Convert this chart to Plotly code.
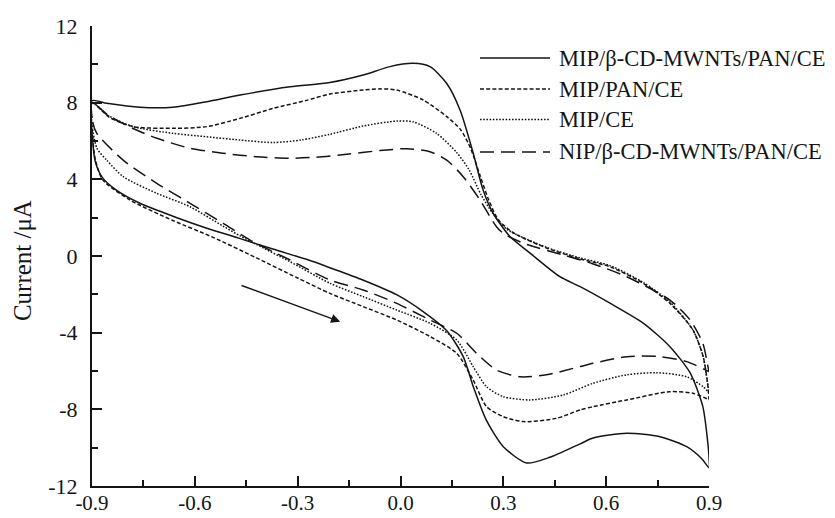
import plotly.graph_objects as go

# Cyclic voltammograms, forward scan (lower branch) then reverse scan (upper branch)
names = ["MIP/β-CD-MWNTs/PAN/CE", "MIP/PAN/CE", "MIP/CE", "NIP/β-CD-MWNTs/PAN/CE"]

mwnt_x = [-0.9, -0.898, -0.89, -0.87, -0.83, -0.76, -0.66, -0.565, -0.47, -0.37, -0.27, -0.2,
          -0.11, -0.01, 0.066, 0.135, 0.183, 0.212, 0.25, 0.3, 0.368, 0.436, 0.524, 0.562,
          0.66, 0.757, 0.835, 0.88, 0.9,
          0.9, 0.895, 0.882, 0.845, 0.786, 0.708, 0.611, 0.524, 0.465, 0.378, 0.32, 0.27,
          0.241, 0.212, 0.174, 0.135, 0.086, 0.037, -0.031, -0.109, -0.206, -0.322, -0.468,
          -0.565, -0.664, -0.76, -0.857, -0.9]
mwnt_y = [8.1, 6.0, 4.9, 4.1, 3.45, 2.75, 2.05, 1.45, 0.92, 0.35, -0.2, -0.65,
          -1.25, -2.03, -2.9, -3.9, -5.25, -6.8, -8.55, -9.95, -10.8, -10.5, -9.8, -9.5,
          -9.25, -9.43, -9.95, -10.6, -11.05,
          -10.5, -9.5, -7.86, -6.1, -4.73, -3.5, -2.46, -1.6, -1.08, 0.15, 1.0, 2.24,
          3.44, 5.37, 7.6, 9.0, 9.88, 10.05, 9.88, 9.44, 9.05, 8.83, 8.4,
          8.05, 7.76, 7.76, 7.97, 8.1]

pan_x = [-0.9, -0.898, -0.89, -0.868, -0.789, -0.664, -0.55, -0.42, -0.3, -0.206, -0.109,
         -0.011, 0.086, 0.164, 0.212, 0.251, 0.3, 0.358, 0.455, 0.524, 0.562, 0.66, 0.786,
         0.853, 0.9,
         0.9, 0.897, 0.883, 0.853, 0.786, 0.708, 0.611, 0.524, 0.426, 0.33, 0.285, 0.258,
         0.232, 0.205, 0.175, 0.135, 0.066, -0.011, -0.06, -0.109, -0.206, -0.274, -0.372,
         -0.468, -0.565, -0.664, -0.78, -0.85, -0.9]
pan_y = [8.0, 6.2, 5.0, 3.96, 2.92, 1.85, 1.0, -0.1, -1.15, -1.95, -2.64,
         -3.34, -4.2, -5.08, -6.47, -7.86, -8.38, -8.64, -8.47, -8.03, -7.86, -7.51, -7.08,
         -7.16, -7.5,
         -7.5, -6.8, -5.25, -3.86, -2.47, -1.42, -0.56, -0.15, 0.42, 1.2, 1.9, 2.9,
         4.2, 5.6, 6.6, 7.27, 8.14, 8.66, 8.72, 8.66, 8.45, 8.12, 7.7,
         7.18, 6.75, 6.66, 6.75, 7.25, 8.0]

ce_x = [-0.9, -0.898, -0.885, -0.857, -0.809, -0.711, -0.614, -0.517, -0.468, -0.42, -0.322,
        -0.206, -0.109, -0.011, 0.086, 0.164, 0.212, 0.251, 0.3, 0.378, 0.475, 0.562, 0.66,
        0.747, 0.835, 0.883, 0.9,
        0.9, 0.897, 0.883, 0.853, 0.786, 0.708, 0.611, 0.524, 0.426, 0.31, 0.27, 0.235,
        0.2, 0.164, 0.105, 0.037, -0.011, -0.109, -0.206, -0.29, -0.372, -0.468, -0.565,
        -0.664, -0.78, -0.85, -0.9]
ce_y = [8.0, 6.6, 5.6, 5.0, 4.14, 3.27, 2.57, 1.55, 1.05, 0.6, -0.3,
        -1.42, -2.12, -2.82, -3.51, -4.38, -5.77, -6.82, -7.34, -7.51, -7.25, -6.64, -6.2,
        -6.09, -6.3, -6.82, -7.16,
        -7.16, -6.8, -5.25, -3.86, -2.4, -1.38, -0.5, -0.1, 0.45, 1.4, 2.2, 3.2,
        4.5, 5.4, 6.4, 7.0, 7.04, 6.78, 6.35, 6.05, 5.92, 6.05, 6.22,
        6.4, 6.75, 7.3, 8.0]

nip_x = [-0.9, -0.898, -0.886, -0.809, -0.711, -0.614, -0.517, -0.439, -0.322, -0.206,
         -0.109, -0.011, 0.086, 0.164, 0.222, 0.28, 0.349, 0.426, 0.524, 0.562, 0.66, 0.757,
         0.835, 0.9,
         0.9, 0.897, 0.882, 0.845, 0.786, 0.66, 0.56, 0.475, 0.358, 0.3, 0.28, 0.261, 0.232,
         0.183, 0.135, 0.086, 0.02, -0.06, -0.15, -0.25, -0.322, -0.42, -0.518, -0.614,
         -0.711, -0.78, -0.85, -0.9]
nip_y = [8.0, 7.0, 6.4, 5.0, 3.79, 2.75, 1.7, 0.83, -0.21, -1.25,
         -1.77, -2.47, -3.34, -4.03, -5.08, -5.95, -6.3, -6.2, -5.77, -5.6, -5.25, -5.25,
         -5.51, -6.03,
         -6.03, -5.77, -4.55, -3.34, -2.3, -1.08, -0.4, 0.05, 0.67, 1.18, 1.53, 2.05, 2.92,
         4.14, 5.0, 5.44, 5.6, 5.5, 5.32, 5.15, 5.1, 5.18, 5.36, 5.62,
         6.14, 6.65, 7.3, 8.0]

x_ticks = [-0.9, -0.6, -0.3, 0.0, 0.3, 0.6, 0.9]
x_tick_labels = ["-0.9", "-0.6", "-0.3", "0.0", "0.3", "0.6", "0.9"]
x_minor = [-0.75, -0.45, -0.15, 0.15, 0.45, 0.75]
y_ticks = [-12, -8, -4, 0, 4, 8, 12]
y_tick_labels = ["-12", "-8", "-4", "0", "4", "8", "12"]
y_minor = [-10, -6, -2, 2, 6, 10]

# scan direction arrow (tail -> head)
arrow_tail = (-0.468, -1.51)
arrow_head = (-0.176, -3.43)

INK = "#151515"
FONT = "Liberation Serif, Times New Roman, serif"
dashes = ["solid", "4px,2.2px", "1.6px,1.6px", "14px,7px"]
curves = [(mwnt_x, mwnt_y), (pan_x, pan_y), (ce_x, ce_y), (nip_x, nip_y)]

fig = go.Figure()
for name, (xs, ys), dash in zip(names, curves, dashes):
    fig.add_trace(go.Scatter(
        x=xs, y=ys, mode="lines", name=name, showlegend=False,
        line=dict(color=INK, width=1.5, dash=dash, shape="spline", smoothing=0.7),
    ))

# legend drawn as line samples + labels beside the plot's upper right
legend_rows = [0.9304, 0.8630, 0.7967, 0.7261]
shapes = []
annotations = []
for name, dash, yr in zip(names, dashes, legend_rows):
    shapes.append(dict(type="line", xref="paper", yref="paper", x0=0.6288, x1=0.7423,
                       y0=yr, y1=yr, line=dict(color=INK, width=1.5, dash=dash)))
    annotations.append(dict(text=name, xref="paper", yref="paper", x=0.7536, y=yr,
                            xanchor="left", yanchor="middle", showarrow=False,
                            font=dict(family=FONT, size=22.5, color=INK)))

annotations.append(dict(text="Current /μA", xref="paper", yref="paper", x=-0.1135, y=0.491,
                        textangle=-90, showarrow=False, xanchor="center", yanchor="middle",
                        font=dict(family=FONT, size=25, color=INK)))
annotations.append(dict(text="", x=arrow_head[0], y=arrow_head[1], ax=arrow_tail[0],
                        ay=arrow_tail[1], xref="x", yref="y", axref="x", ayref="y",
                        showarrow=True, arrowhead=2, arrowsize=1.3, arrowwidth=1.4,
                        arrowcolor=INK))

axis_common = dict(showgrid=False, zeroline=False, showline=True, linewidth=2,
                   linecolor=INK, ticks="inside", ticklen=10, tickwidth=2, tickcolor=INK,
                   tickmode="array", automargin=False)

fig.update_layout(
    width=835, height=518,
    margin=dict(l=92, r=126, t=26, b=32),
    paper_bgcolor="white", plot_bgcolor="white",
    shapes=shapes, annotations=annotations,
    xaxis=dict(range=[-0.9, 0.9], tickvals=x_ticks, ticktext=x_tick_labels,
               ticklabelstandoff=-3,
               tickfont=dict(family=FONT, size=21, color=INK),
               minor=dict(ticks="inside", ticklen=6, tickwidth=2, tickcolor=INK,
                          tickmode="array", tickvals=x_minor),
               **axis_common),
    yaxis=dict(range=[-12, 12], tickvals=y_ticks, ticktext=y_tick_labels,
               ticklabelstandoff=8,
               tickfont=dict(family=FONT, size=22, color=INK),
               minor=dict(ticks="inside", ticklen=6, tickwidth=2, tickcolor=INK,
                          tickmode="array", tickvals=y_minor),
               **axis_common),
)

fig.write_html("out.html")
